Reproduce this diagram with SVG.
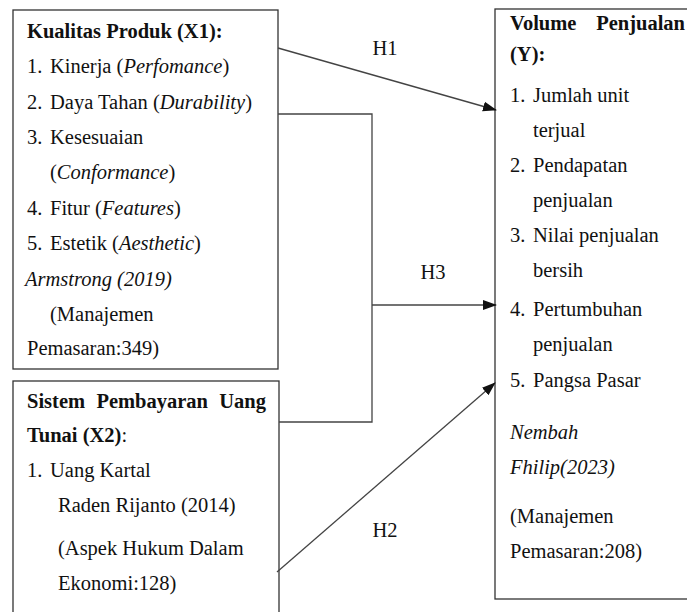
<svg xmlns="http://www.w3.org/2000/svg" width="687" height="612" viewBox="0 0 687 612" font-family="'Liberation Serif', 'Times New Roman', serif">
<style>
text{font-family:'Liberation Serif', 'Times New Roman', serif;font-size:20.5px;fill:#111}
.b{font-weight:bold}
.i{font-style:italic}
.box{fill:#fff;stroke:#333;stroke-width:1.3}
.con{fill:none;stroke:#444;stroke-width:1.3}
</style>
<defs>
<marker id="arr" markerUnits="userSpaceOnUse" markerWidth="14" markerHeight="12" viewBox="0 0 14 12" refX="13" refY="6" orient="auto">
<path d="M0,1 L14,6 L0,11 Z" fill="#111"/>
</marker>
</defs>
<rect width="687" height="612" fill="#fff"/>

<g id="x1">
<rect class="box" x="13" y="10" width="265" height="359"/>
<text class="b" x="27" y="38">Kualitas Produk (X1):</text>
<text x="27" y="73">1.</text><text x="50" y="73">Kinerja (<tspan class="i">Perfomance</tspan>)</text>
<text x="27" y="108.5">2.</text><text x="50" y="108.5">Daya Tahan (<tspan class="i">Durability</tspan>)</text>
<text x="27" y="144">3.</text><text x="50" y="144">Kesesuaian</text>
<text x="50" y="179">(<tspan class="i">Conformance</tspan>)</text>
<text x="27" y="214.5">4.</text><text x="50" y="214.5">Fitur (<tspan class="i">Features</tspan>)</text>
<text x="27" y="250">5.</text><text x="50" y="250">Estetik (<tspan class="i">Aesthetic</tspan>)</text>
<text class="i" x="25" y="285.5">Armstrong (2019)</text>
<text x="50" y="321">(Manajemen</text>
<text x="27" y="355">Pemasaran:349)</text>
</g>

<g id="x2">
<rect class="box" x="13" y="381" width="266" height="240"/>
<text class="b" x="27" y="408">Sistem</text>
<text class="b" x="96.4" y="408">Pembayaran</text>
<text class="b" x="266" y="408" text-anchor="end">Uang</text>
<text x="27" y="442"><tspan class="b">Tunai (X2)</tspan>:</text>
<text x="27" y="477">1.</text><text x="50" y="477">Uang Kartal</text>
<text x="58" y="512">Raden Rijanto (2014)</text>
<text x="58" y="555">(Aspek Hukum Dalam</text>
<text x="58" y="590">Ekonomi:128)</text>
</g>

<g id="y">
<rect class="box" x="495" y="9" width="210" height="590"/>
<text class="b" x="510" y="30">Volume</text>
<text class="b" x="685" y="30" text-anchor="end">Penjualan</text>
<text class="b" x="510" y="61">(Y):</text>
<text x="510" y="102">1.</text><text x="533" y="102">Jumlah unit</text>
<text x="533" y="137">terjual</text>
<text x="510" y="172">2.</text><text x="533" y="172">Pendapatan</text>
<text x="533" y="207">penjualan</text>
<text x="510" y="242">3.</text><text x="533" y="242">Nilai penjualan</text>
<text x="533" y="277">bersih</text>
<text x="510" y="316">4.</text><text x="533" y="316">Pertumbuhan</text>
<text x="533" y="351">penjualan</text>
<text x="510" y="387">5.</text><text x="533" y="387">Pangsa Pasar</text>
<text class="i" x="510" y="439">Nembah</text>
<text class="i" x="510" y="474">Fhilip(2023)</text>
<text x="510" y="523">(Manajemen</text>
<text x="510" y="558">Pemasaran:208)</text>
</g>

<g id="connectors">
<line class="con" x1="278" y1="48" x2="496" y2="110" marker-end="url(#arr)"/>
<polyline class="con" points="278,114 372,114 372,422 279,422"/>
<line class="con" x1="372" y1="305" x2="496" y2="305" marker-end="url(#arr)"/>
<line class="con" x1="277" y1="572" x2="495" y2="383" marker-end="url(#arr)"/>
<text x="385" y="55" text-anchor="middle">H1</text>
<text x="433" y="279" text-anchor="middle">H3</text>
<text x="385" y="537" text-anchor="middle">H2</text>
</g>
</svg>
